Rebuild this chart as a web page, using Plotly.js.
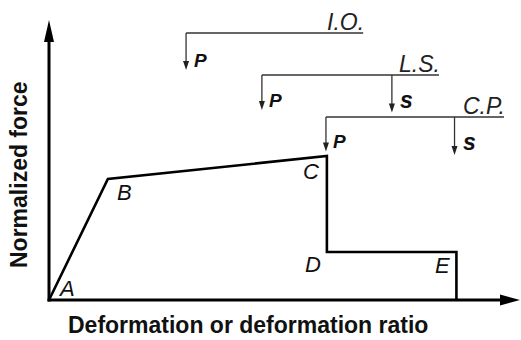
<!DOCTYPE html>
<html>
<head>
<meta charset="utf-8">
<script src="https://cdn.plot.ly/plotly-3.0.1.min.js"></script>
<style>
  html, body { margin: 0; padding: 0; background: #fff; }
  #chart { width: 521px; height: 340px; }
</style>
</head>
<body>
<div id="chart"></div>
<script>
// ---- Data ----
const deformation = [0, 1.25, 5.9, 5.9, 8.65, 8.65];
const force = [0, 0.605, 0.72, 0.24, 0.24, 0];
const pointLabels = ['A', 'B', 'C', 'D', 'E'];

const levels = ['I.O.', 'L.S.', 'C.P.'];
const levelY = [1.335, 1.125, 0.915];
const levelStart = [2.91, 4.52, 5.88];
const levelEnd = [6.67, 8.28, 9.66];

const arrowLevel = [0, 1, 1, 2, 2];
const arrowX = [2.91, 4.52, 7.28, 5.88, 8.61];
const arrowTip = [1.15, 0.95, 0.9375, 0.7425, 0.725];
const arrowText = ['P', 'P', 's', 'P', 's'];

const xTitle = 'Deformation or deformation ratio';
const yTitle = 'Normalized force';
const axisEnd = { x: 10.0, y: 1.4 };

// ---- Styling ----
const labelShift = [[17, 12], [17, -13], [-16, -15], [-14, -12], [-14, -13]];
const FONT = '"Liberation Sans", Arial, sans-serif';

const traces = [];

// bracket lines and arrow stems
levels.forEach(function (lv, i) {
  const xs = [levelStart[i], levelEnd[i]];
  const ys = [levelY[i], levelY[i]];
  arrowX.forEach(function (ax, j) {
    if (arrowLevel[j] === i) {
      xs.push(null, ax, ax);
      ys.push(null, levelY[i], arrowTip[j] + 0.02);
    }
  });
  traces.push({
    x: xs, y: ys, type: 'scatter', mode: 'lines',
    line: { color: '#333', width: 1.3 }, hoverinfo: 'skip', connectgaps: false
  });
});

// capacity curve
traces.push({
  x: deformation, y: force, type: 'scatter', mode: 'lines',
  line: { color: '#000', width: 2.6 }, hoverinfo: 'skip'
});

const shapes = [];
// axes
shapes.push({ type: 'line', xref: 'x', yref: 'y', x0: 0, x1: 0, y0: -0.0075, y1: axisEnd.y - 0.1,
  line: { color: '#000', width: 3 } });
shapes.push({ type: 'line', xref: 'x', yref: 'y', x0: -0.032, x1: axisEnd.x - 0.4, y0: 0, y1: 0,
  line: { color: '#000', width: 3 } });
// axis arrowheads (pixel sized)
shapes.push({ type: 'path', xref: 'x', yref: 'y', xsizemode: 'pixel', ysizemode: 'pixel',
  xanchor: 0, yanchor: axisEnd.y, path: 'M0,0L-5,-22L5,-22Z',
  fillcolor: '#000', line: { width: 0 } });
shapes.push({ type: 'path', xref: 'x', yref: 'y', xsizemode: 'pixel', ysizemode: 'pixel',
  xanchor: axisEnd.x, yanchor: 0, path: 'M0,0L-20,-5.5L-20,5.5Z',
  fillcolor: '#000', line: { width: 0 } });
// small arrowheads
arrowX.forEach(function (ax, j) {
  shapes.push({ type: 'path', xref: 'x', yref: 'y', xsizemode: 'pixel', ysizemode: 'pixel',
    xanchor: ax, yanchor: arrowTip[j], path: 'M0,0L-3,9L3,9Z',
    fillcolor: '#222', line: { width: 0 } });
});

const annotations = [];
// point labels
pointLabels.forEach(function (t, i) {
  annotations.push({ x: deformation[i], y: force[i], xref: 'x', yref: 'y', text: t,
    showarrow: false, xanchor: 'center', yanchor: 'middle',
    xshift: labelShift[i][0], yshift: labelShift[i][1],
    font: { family: FONT, size: 22, style: 'italic', color: '#111' } });
});
// level names
levels.forEach(function (t, i) {
  annotations.push({ x: levelEnd[i], y: levelY[i], xref: 'x', yref: 'y', text: t,
    showarrow: false, xanchor: 'right', yanchor: 'bottom', xshift: 3, yshift: -4,
    font: { family: FONT, size: 23, style: 'italic', color: '#222' } });
});
// P / s labels
arrowText.forEach(function (t, j) {
  const isS = t === 's';
  annotations.push({ x: arrowX[j], y: arrowTip[j], xref: 'x', yref: 'y', text: t,
    showarrow: false, xanchor: 'center', yanchor: 'middle',
    xshift: isS ? 15 : 14, yshift: isS ? 13 : 10,
    font: { family: FONT, size: isS ? 23 : 19, style: 'italic', weight: 'bold', color: '#111' } });
});
// axis titles (paper coordinates, outside the plotting area)
annotations.push({ x: 0.444, y: -0.05, xref: 'paper', yref: 'paper', text: xTitle, showarrow: false,
  xanchor: 'center', yanchor: 'middle',
  font: { family: FONT, size: 23, weight: 'bold', color: '#111' } });
annotations.push({ x: -0.0224, y: 0.45, xref: 'paper', yref: 'paper', text: yTitle, showarrow: false,
  xanchor: 'center', yanchor: 'middle', textangle: -90,
  font: { family: FONT, size: 23, weight: 'bold', color: '#111' } });

const layout = {
  width: 521, height: 340,
  margin: { l: 30, r: 0, t: 10, b: 30, pad: 0 },
  paper_bgcolor: '#fff', plot_bgcolor: '#fff',
  showlegend: false,
  xaxis: { range: [-0.4034, 10.0212], visible: false, fixedrange: true },
  yaxis: { range: [-0.05, 1.45], visible: false, fixedrange: true },
  shapes: shapes,
  annotations: annotations
};

Plotly.newPlot('chart', traces, layout, { displayModeBar: false, staticPlot: true });
</script>
</body>
</html>
